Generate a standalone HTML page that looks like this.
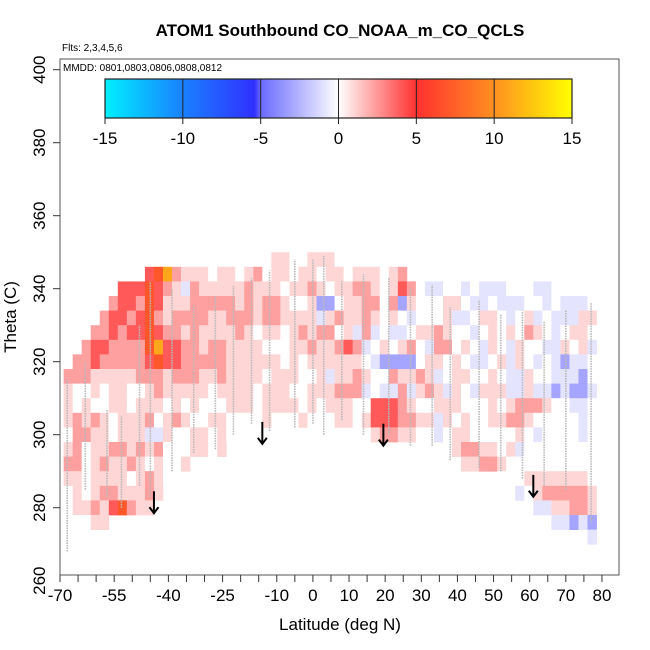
<!DOCTYPE html>
<html><head><meta charset="utf-8">
<style>
body{margin:0;background:#fff;}
svg{display:block;font-family:"Liberation Sans",Arial,sans-serif;}
</style></head>
<body>
<svg id="chart" width="650" height="650" viewBox="0 0 650 650">
  <rect x="0" y="0" width="650" height="650" fill="#fff"/>
  <text x="340" y="36" font-size="17" font-weight="bold" text-anchor="middle">ATOM1 Southbound CO_NOAA_m_CO_QCLS</text>
  <text x="62" y="51" font-size="10">Flts: 2,3,4,5,6</text>
  <g id="cells"></g>
  <g id="tracks"></g>
  <g id="arrows"></g>
  <rect x="60" y="59" width="559" height="516" fill="none" stroke="#555" stroke-width="1"/>
  <text x="63" y="71" font-size="10">MMDD: 0801,0803,0806,0808,0812</text>
  <defs>
    <linearGradient id="cb" x1="0" x2="1" y1="0" y2="0">
      <stop offset="0" stop-color="#00f0ff"/>
      <stop offset="0.1667" stop-color="#1a80ff"/>
      <stop offset="0.32" stop-color="#3030ff"/>
      <stop offset="0.3334" stop-color="#6a6aff"/>
      <stop offset="0.5" stop-color="#ffffff"/>
      <stop offset="0.6666" stop-color="#ff3030"/>
      <stop offset="0.8333" stop-color="#ff9020"/>
      <stop offset="1" stop-color="#ffff00"/>
    </linearGradient>
  </defs>
  <g id="colorbar">
    <rect x="105" y="79" width="467" height="39" fill="url(#cb)" stroke="#222" stroke-width="1.2"/>
  </g>
  <g id="xaxis"></g>
  <g id="yaxis"></g>
  <text x="340" y="630" font-size="17" text-anchor="middle">Latitude (deg N)</text>
  <text x="0" y="0" font-size="17" text-anchor="middle" transform="translate(16,317) rotate(-90)">Theta (C)</text>
</svg>
<script>
// ---- data ----
const latStart = -69, latStep = 2.5;
const thetaTop = 350, thetaStep = 4;
const codeValues = {'0':0,'1':1,'2':2.3,'3':4,'4':7,'5':11,'a':-0.9,'b':-3,'c':-6};
// row strings, 60 columns each (groups of 4 columns = 10 deg)
const grid = [
"....|....|....|....|....|..01|1001|1100|....|....|....|....|....|....|....",
"....|....|.345|2111|0110|1201|1011|0110|1110|12..|....|....|....|....|....",
"....|..33|3432|1a21|1111|2111|0112|1011|2210|1320|aa00|a0aa|a000|aa0.|....",
"....|.233|2431|1122|2221|2122|1001|bb01|1220|2b10|0011|0aa0|aaa0|0a0a|aa0.",
"....|2332|3421|2222|1122|2122|1111|a121|1210|10a0|001a|a011|0a01|a0aa|a11.",
"...2|2323|3432|2121|1112|1011|0121|2201|a2a0|aa01|1210|0a01|0102|10a0|110.",
"..23|3222|2453|3221|2211|1100|0112|1123|2a01|0120|a220|10a1|0a10|0aa1|01a.",
".223|2222|2343|3222|2211|1111|0101|1111|10ab|bbb0|1101|0aa0|1a10|a0ab|aa0.",
"2221|1111|2221|2221|1211|1101|1100|1a11|2100|2112|1a01|1001|0aa1|00aa|ab0.",
"1001|0110|0121|1111|0111|1011|1001|1122|2a0a|a2a1|21a1|0a11|1aa1|aaba|bba.",
"1010|0110|1110|1010|0011|1011|1101|0111|0033|3210|0111|0001|0122|2100|aa0.",
"1212|1011|1201|2100|1100|0010|0010|0011|0133|3221|1a10|1001|1221|0000|0a0.",
"0221|1011|1aa1|0011|0100|00..|....|....|..12|2110|0a01|1000|0010|a000|0a0.",
"1201|1221|2120|0011|01..|....|....|....|....|....|..01|2211|01a0|0000|000.",
"2201|2112|1010|01..|....|....|....|....|....|....|....|1122|1000|0000|000.",
"1101|1110|1210|0...|....|....|....|....|....|....|....|....|0001|1111|110.",
"0101|2211|121.|....|....|....|....|....|....|....|....|....|..a0|1222|221.",
"0112|1342|11..|....|....|....|....|....|....|....|....|....|....|aa11|221.",
"0001|1...|....|....|....|....|....|....|....|....|....|....|....|..aa|bab.",
"00..|....|....|....|....|....|....|....|....|....|....|....|....|....|..a.",
"0...|....|....|....|....|....|....|....|....|....|....|....|....|....|...."
];
const trackLat =    [-68,-63,-57,-53,-48,-45,-39,-33,-27,-22,-17,-12,-5,0,3,8,14,21,27,33,38,46,52,58,64,70,77];
const trackBottom = [268,285,283,280,286,283,290,295,296,300,303,301,302,303,300,304,300,300,297,297,293,291,290,288,286,285,276];
const trackTop =    [315,320,307,305,330,342,340,335,338,341,343,345,348,348,349,342,344,343,340,341,335,337,333,334,331,334,336];
const arrowLat = [-44,-14,19.5,61];
const arrowTheta = [284.5,303.5,303,289];
const xTicks = [-70,-65,-60,-55,-50,-45,-40,-35,-30,-25,-20,-15,-10,-5,0,5,10,15,20,25,30,35,40,45,50,55,60,65,70,75,80];
const xLabels = [-70,-55,-40,-25,-10,0,10,20,30,40,50,60,70,80];
const yTicks = [260,280,300,320,340,360,380,400];
const cbTicks = [-15,-10,-5,0,5,10,15];

// ---- scales ----
const NS = 'http://www.w3.org/2000/svg';
const x = lat => 60 + (lat + 70) * 3.613;
const y = th => 142.7 + (380 - th) * 3.65;
const cbx = v => 105 + (v + 15) / 30 * 467;
function lerp(a,b,t){return a.map((v,i)=>Math.round(v+(b[i]-v)*t));}
function color(v){
  const stops=[[-15,[0,240,255]],[-10,[26,128,255]],[-5,[48,48,255]],[-4.99,[106,106,255]],[0,[255,255,255]],[5,[255,48,48]],[10,[255,144,32]],[15,[255,255,0]]];
  if(v<=stops[0][0])return 'rgb('+stops[0][1]+')';
  for(let i=1;i<stops.length;i++){
    if(v<=stops[i][0]){const t=(v-stops[i-1][0])/(stops[i][0]-stops[i-1][0]);return 'rgb('+lerp(stops[i-1][1],stops[i][1],t)+')';}
  }
  return 'rgb(255,255,0)';
}
function mk(tag,attrs,parent){const e=document.createElementNS(NS,tag);for(const k in attrs)e.setAttribute(k,attrs[k]);parent.appendChild(e);return e;}

// ---- heatmap ----
const cellsG=document.getElementById('cells');
grid.forEach((rowStr,r)=>{
  const codes=rowStr.replace(/\|/g,'');
  for(let c=0;c<codes.length;c++){
    const ch=codes[c]; if(ch==='.')continue;
    const v=codeValues[ch];
    const lat0=latStart+c*latStep, th1=thetaTop-r*thetaStep;
    const x0=x(lat0), x1=x(lat0+latStep), y0=y(th1), y1=y(th1-thetaStep);
    const rect=mk('rect',{x:x0.toFixed(2),y:y0.toFixed(2),width:(x1-x0+0.4).toFixed(2),height:(y1-y0+0.4).toFixed(2),fill:color(v)},cellsG);
    
    
  }
});

// ---- tracks ----
const trG=document.getElementById('tracks');
trackLat.forEach((lat,i)=>{
  const l=mk('line',{x1:x(lat),x2:x(lat),y1:y(trackBottom[i]),y2:y(trackTop[i]),stroke:'#b8b8b8','stroke-width':1.6,'stroke-dasharray':'1.5 1'},trG);
  
  
});

// ---- arrows ----
const arG=document.getElementById('arrows');
arrowLat.forEach((lat,i)=>{
  const ax=x(lat), yt=y(arrowTheta[i]), yb=y(arrowTheta[i]-6);
  const p=mk('path',{d:`M${ax},${yt} L${ax},${yb} M${ax-4.5},${yb-6} L${ax},${yb} L${ax+4.5},${yb-6}`,stroke:'#000','stroke-width':2,fill:'none'},arG);
  
  
});

// ---- x axis ----
const xa=document.getElementById('xaxis');
xTicks.forEach(t=>{
  const l=mk('line',{x1:x(t),x2:x(t),y1:575,y2:582,stroke:'#333','stroke-width':1},xa);
  
  
});
xLabels.forEach(t=>{
  const tx=mk('text',{x:x(t),y:601,'font-size':17,'text-anchor':'middle'},xa);
  tx.textContent=t;
  
  
});
// ---- y axis ----
const ya=document.getElementById('yaxis');
yTicks.forEach(t=>{
  const yy=y(t);
  if(yy<=575){
    const l=mk('line',{x1:53,x2:60,y1:yy,y2:yy,stroke:'#333','stroke-width':1},ya);
    
    
  }
  const tx=mk('text',{x:0,y:0,'font-size':17,'text-anchor':'middle',transform:`translate(45,${yy}) rotate(-90)`},ya);
  tx.textContent=t;
  
  
});
// ---- colorbar ticks ----
const cbG=document.getElementById('colorbar');
cbTicks.forEach(t=>{
  const cx=cbx(t);
  if(t>-15&&t<15){
    const l=mk('line',{x1:cx,x2:cx,y1:79,y2:118,stroke:'#222','stroke-width':1},cbG);
    
    
  }
  const tk=mk('line',{x1:cx,x2:cx,y1:118,y2:124,stroke:'#222','stroke-width':1},cbG);
  
  
  const tx=mk('text',{x:cx,y:144,'font-size':17,'text-anchor':'middle'},cbG);
  tx.textContent=t;
  
  
});
</script>
</body></html>
